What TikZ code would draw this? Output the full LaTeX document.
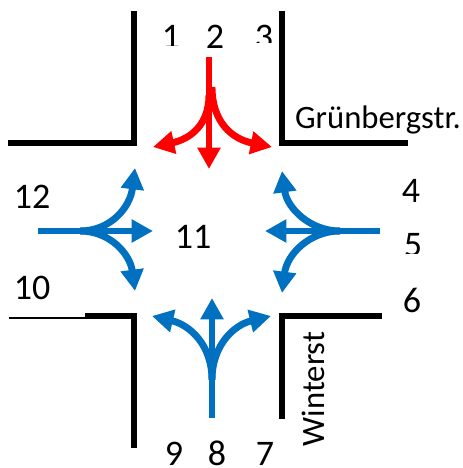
\documentclass[tikz,border=0pt]{standalone}
\usepackage{fontspec}
\usepackage{xcolor}
\usepackage{tikz}
\usetikzlibrary{arrows.meta}
\setmainfont{Carlito}
\definecolor{fanblue}{HTML}{0070C0}
\tikzset{
  kerb/.style={line width=3.8pt, black, line join=miter},
  fan/.style={line width=5.2pt, -{Triangle[width=16.5pt,length=16pt]}},
  num/.style={anchor=base, inner sep=0pt, font=\fontsize{27}{27}\selectfont},
  street/.style={anchor=base, inner sep=0pt, font=\fontsize{24.5}{25}\selectfont}
}
\begin{document}
\begin{tikzpicture}[x=0.75pt,y=-0.75pt]
  \useasboundingbox (0,0) rectangle (463,468);

  % labels, some of them cut off by white
  \node[num] (n1) at (171,48) {1};
  \node[num] (n2) at (215,48) {2};
  \node[num] (n3) at (264,48) {3};
  \node[num] (n4) at (411,202) {4};
  \node[num] (n5) at (413,256) {5};
  \node[num] (n6) at (412,312) {6};
  \node[num] (n7) at (265,465) {7};
  \node[num] (n8) at (217,465) {8};
  \node[num] (n9) at (174,465) {9};
  \node[num] (n10) at (32,299) {10};
  \node[num] (n11) at (193,248) {11};
  \node[num] (n12) at (32,208) {12};
  \fill[white] (155,46) rectangle (205,52);
  \fill[white] (250,43) rectangle (279,52);
  \fill[white] (400,254) rectangle (430,262);
  \node[street] (gruen) at (378,128) {Grünbergstr.};
  \node[street, rotate=90] (winter) at (324,389) {Winterst};

  % kerbs
  \draw[kerb] (134,11) -- (134,143) -- (8,143);
  \draw[kerb] (282,11) -- (282,143) -- (408,143);
  \draw[kerb] (382,316) -- (282,316) -- (282,419);
  \draw[kerb] (85,316) -- (134,316) -- (134,448);
  \draw[black, line width=0.8pt] (9,318) -- (85,318);

  % red arrows from the top
  \draw[fan, red] (209,57) -- (209,169);
  \draw[fan, red] (209,95) .. controls (209,125) and (190,139) .. (153,147);
  \draw[fan, red] (212,87) .. controls (212,122) and (232,139) .. (272,147);

  % blue arrows from the left
  \draw[fan, fanblue] (38,231) -- (153,231);
  \draw[fan, fanblue] (80,231) .. controls (110,231) and (130,208) .. (135,168);
  \draw[fan, fanblue] (80,231) .. controls (110,231) and (130,254) .. (135,291);

  % blue arrows from the right
  \draw[fan, fanblue] (380,231) -- (265,231);
  \draw[fan, fanblue] (340,231) .. controls (310,231) and (287,208) .. (282,171);
  \draw[fan, fanblue] (340,231) .. controls (310,231) and (287,254) .. (282,293);

  % blue arrows from the bottom
  \draw[fan, fanblue] (212,418) -- (212,298);
  \draw[fan, fanblue] (212,380) .. controls (212,345) and (190,325) .. (152,316);
  \draw[fan, fanblue] (212,380) .. controls (212,345) and (234,325) .. (271,316);
\end{tikzpicture}
\end{document}
